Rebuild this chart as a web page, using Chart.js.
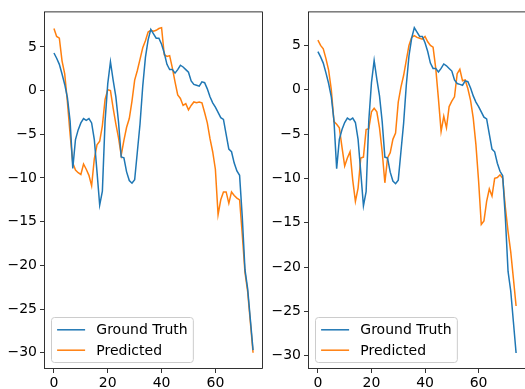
<!DOCTYPE html>
<html>
<head>
<meta charset="utf-8">
<script src="https://cdn.jsdelivr.net/npm/chart.js@4.4.0/dist/chart.umd.min.js"></script>
<style>
  html, body { margin: 0; padding: 0; background: #fff; overflow: hidden; }
  body { width: 525px; height: 389px; position: relative; }
  .panel { position: absolute; top: 0; }
  #left-panel { left: 0; }
  #right-panel { left: 268px; }
</style>
</head>
<body>
<div class="panel" id="left-panel"><canvas id="left-chart" width="268" height="389"></canvas></div>
<div class="panel" id="right-panel"><canvas id="right-chart" width="258" height="389"></canvas></div>
<script>
const groundTruth = [
  4.3, 3.7, 3.0, 1.9, 0.7, -0.8, -3.5, -8.9, -5.6, -4.5,
  -3.7, -3.2, -3.4, -3.2, -3.7, -5.6, -9.3, -13.1, -11.5, -3.5,
  0.8, 3.3, 1.2, -0.7, -3.6, -7.6, -7.7, -9.3, -10.3, -10.6,
  -10.2, -7.0, -3.8, 0.5, 3.8, 5.8, 7.0, 6.5, 6.0, 6.0,
  5.3, 4.3, 3.0, 2.4, 2.4, 2.0, 2.4, 2.9, 2.7, 2.4,
  2.1, 1.1, 0.7, 0.6, 0.5, 1.0, 0.9, 0.2, -0.7, -1.4,
  -1.9, -2.5, -3.1, -3.3, -5.0, -6.7, -7.0, -8.3, -9.2, -9.7,
  -14.5, -20.5, -22.7, -26.2, -29.7
];

const predictedLeft = [
  7.1, 6.2, 6.0, 3.4, 1.9, -1.3, -5.0, -8.3, -9.1, -9.4,
  -9.6, -8.4, -9.0, -9.7, -10.9, -7.8, -6.2, -5.8, -4.0, -1.0,
  0.1, 0.0, -2.0, -3.8, -5.4, -7.4, -5.7, -4.2, -3.2, -1.2,
  1.2, 2.3, 3.6, 4.9, 5.7, 6.7, 6.9, 6.8, 6.9, 7.1,
  7.2, 4.1, 3.9, 4.0, 2.6, 1.0, -0.5, -0.9, -1.7, -1.5,
  -2.2, -1.7, -1.3, -1.4, -1.3, -1.4, -2.5, -3.7, -5.5, -7.0,
  -9.0, -14.2, -12.5, -11.6, -11.6, -12.9, -11.6, -12.0, -12.3, -12.5,
  -16.5, -20.8, -23.0, -26.5, -30.0
];

const predictedRight = [
  5.6, 5.0, 4.6, 3.5, 2.2, 0.0, -3.6, -3.9, -4.3, -6.5,
  -8.6, -7.7, -7.0, -10.2, -12.6, -11.1, -7.7, -7.6, -4.5, -4.4,
  -2.5, -2.1, -2.5, -4.3, -7.0, -10.5, -7.7, -7.1, -5.6, -4.9,
  -1.4, 0.3, 1.6, 3.3, 5.0, 5.9, 6.1, 5.9, 5.8, 5.7,
  6.0, 5.4, 5.0, 4.8, 2.4, -1.0, -4.7, -3.0, -4.3, -1.9,
  -1.3, -0.8, 1.8, 2.3, 1.0, 1.1, 0.1, -1.2, -3.2, -6.2,
  -10.3, -15.2, -14.8, -12.6, -11.2, -12.0, -10.0, -9.9, -9.6, -10.0,
  -13.3, -16.0, -18.3, -21.3, -24.4
];

const xTicks = [0, 20, 40, 60];
const yTicks = [-30, -25, -20, -15, -10, -5, 0, 5];

const timeSteps = groundTruth.map((_, i) => i);

const FONT = { family: '"DejaVu Sans", sans-serif', size: 14 };

// full box round the plot area, like matplotlib spines
const frame = {
    id: 'frame',
    afterDraw(chart) {
        const { ctx, chartArea: a } = chart;
        ctx.save();
        ctx.strokeStyle = '#000';
        ctx.lineWidth = 0.8;
        ctx.strokeRect(a.left + 0.5, a.top + 0.5, a.right - a.left - 1, a.bottom - a.top - 1);
        ctx.restore();
    }
};

// legend drawn inside the plot, lower left
const insetLegend = {
    id: 'insetLegend',
    afterDraw(chart) {
        const { ctx, chartArea: a } = chart;
        const sets = chart.data.datasets;
        ctx.save();
        ctx.font = '14px "DejaVu Sans"';
        const textW = Math.max(...sets.map(d => ctx.measureText(d.label).width));
        const pad = 5.6, handle = 28, gap = 11.2, rowH = 13.4, spacing = 7;
        const w = pad * 2 + handle + gap + textW;
        const h = pad * 2 + rowH * sets.length + spacing * (sets.length - 1);
        const x = Math.round(a.left + 7) + 0.5;
        const y = Math.round(a.bottom - 7 - h) + 0.5;
        ctx.fillStyle = 'rgba(255,255,255,0.8)';
        ctx.strokeStyle = '#cccccc';
        ctx.lineWidth = 1;
        ctx.beginPath();
        ctx.roundRect(x, y, w, h, 3);
        ctx.fill();
        ctx.stroke();
        sets.forEach((d, i) => {
            const cy = y + pad + rowH / 2 + i * (rowH + spacing);
            ctx.strokeStyle = d.borderColor;
            ctx.lineWidth = 1.5;
            ctx.beginPath();
            ctx.moveTo(x + pad, cy);
            ctx.lineTo(x + pad + handle, cy);
            ctx.stroke();
            ctx.fillStyle = '#000';
            ctx.textAlign = 'left';
            ctx.textBaseline = 'middle';
            ctx.fillText(d.label, x + pad + handle + gap, cy + 1);
        });
        ctx.restore();
    }
};

function toPoints(values) {
    return timeSteps.map((t, i) => ({ x: t, y: values[i] }));
}

function initPanel(canvasId, predicted, yMin, yMax, yWidth, padRight) {
    const ctx = document.getElementById(canvasId).getContext('2d');

    new Chart(ctx, {
        type: 'line',
        data: {
            datasets: [
                {
                    label: 'Ground Truth',
                    data: toPoints(groundTruth),
                    borderColor: '#1f77b4',
                    borderWidth: 1.5,
                    pointRadius: 0,
                    tension: 0
                },
                {
                    label: 'Predicted',
                    data: toPoints(predicted),
                    borderColor: '#ff7f0e',
                    borderWidth: 1.5,
                    pointRadius: 0,
                    tension: 0
                }
            ]
        },
        options: {
            responsive: false,
            animation: false,
            devicePixelRatio: 1,
            layout: { padding: { top: 11, right: padRight, bottom: 0, left: 0 } },
            scales: {
                x: {
                    type: 'linear',
                    min: -3.7,
                    max: 77.7,
                    afterBuildTicks: scale => { scale.ticks = xTicks.map(v => ({ value: v })); },
                    afterFit: scale => { scale.height = 20; },
                    grid: { drawOnChartArea: false, drawTicks: true, tickLength: 4, color: '#000', lineWidth: 0.8 },
                    border: { display: false },
                    ticks: { color: '#000', font: FONT, padding: 2, maxRotation: 0 }
                },
                y: {
                    min: yMin,
                    max: yMax,
                    afterBuildTicks: scale => { scale.ticks = yTicks.map(v => ({ value: v })); },
                    afterFit: scale => { scale.width = yWidth; },
                    grid: { drawOnChartArea: false, drawTicks: true, tickLength: 4, color: '#000', lineWidth: 0.8 },
                    border: { display: false },
                    ticks: {
                        color: '#000',
                        font: FONT,
                        padding: 3,
                        callback: v => String(v).replace('-', '\u2212')
                    }
                }
            },
            plugins: {
                legend: { display: false },
                tooltip: { enabled: false }
            }
        },
        plugins: [frame, insetLegend]
    });
}

initPanel('left-chart', predictedLeft, -31.86, 9.06, 44, 5);
initPanel('right-chart', predictedRight, -31.5, 8.83, 40, 0);
</script>
</body>
</html>
